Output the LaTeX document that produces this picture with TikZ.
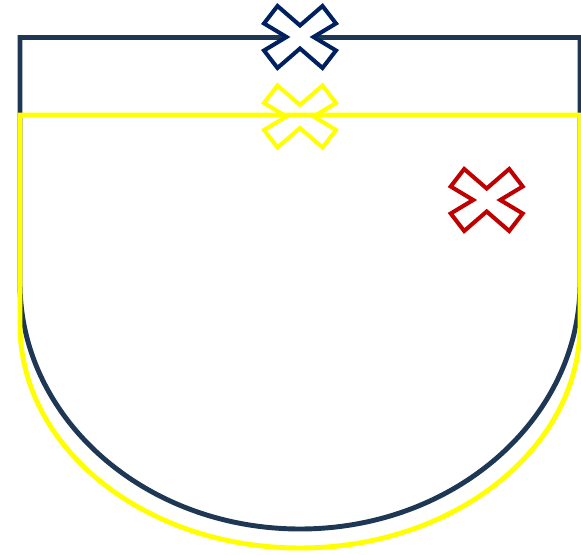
\documentclass[tikz,border=0pt]{standalone}
\usepackage{tikz}
\usetikzlibrary{positioning}

\definecolor{pocketblue}{RGB}{30,55,85}
\definecolor{crossblue}{RGB}{0,32,96}
\definecolor{pocketyellow}{RGB}{255,255,0}
\definecolor{crossred}{RGB}{192,0,0}

\begin{document}
\begin{tikzpicture}[x=0.02cm, y=0.02cm,
    outline/.style={line width=2.8pt},
    stitch/.pic={\draw[line width=2.3pt, fill=white, pic actions]
      (0,11.5) -- (22.5,31) -- (36,13.5) -- (13.5,0) -- (36,-13.5) -- (22.5,-31)
      -- (0,-11.5) -- (-22.5,-31) -- (-36,-13.5) -- (-13.5,0) -- (-36,13.5) -- (-22.5,31) -- cycle;}]
\useasboundingbox (0,0) rectangle (581,554);

\coordinate (outerx) at (300,517);
\coordinate (innerx) at (300,437.5);
\coordinate (sidex) at (486.7,354);

% outer pocket
\draw[outline, pocketblue] (20,516.5) -- (20,271)
    arc[start angle=180, end angle=360, x radius=280, y radius=246]
    -- (580,516.5) -- cycle;
\pic[draw=crossblue] at (outerx) {stitch};

% inner pocket
\pic[draw=pocketyellow] at (innerx) {stitch};
\draw[outline, pocketyellow] (20,439) -- (20,229)
    arc[start angle=180, end angle=360, x radius=280, y radius=223]
    -- (580,439) -- cycle;

\pic[draw=crossred] at (sidex) {stitch};
\end{tikzpicture}
\end{document}
